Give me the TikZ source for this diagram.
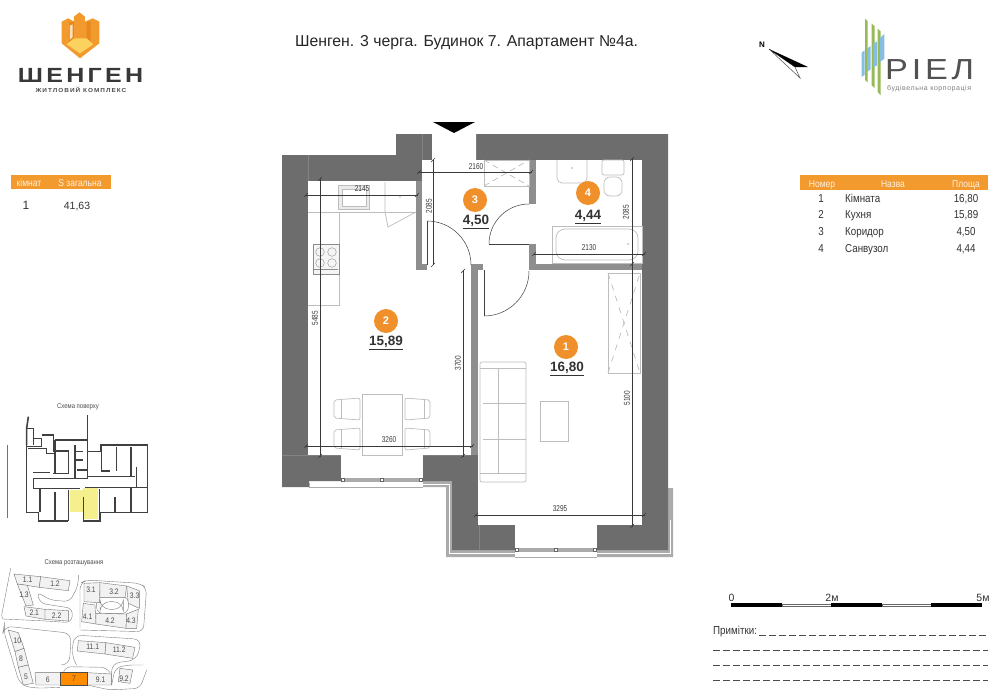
\documentclass[tikz,border=0pt]{standalone}
\usepackage{fontspec}
\setmainfont{Liberation Sans}
\newfontfamily\narrowfont[FakeStretch=0.85]{Liberation Sans}
\newfontfamily\dimfont[FakeStretch=0.76]{Liberation Sans}
\newfontfamily\logofont[FakeStretch=1.22,LetterSpace=16]{Liberation Sans}
\newfontfamily\subfont[FakeStretch=1.1,LetterSpace=18]{Liberation Sans}
\newfontfamily\brandfont[FakeStretch=1.18,LetterSpace=13]{Liberation Sans}
\newfontfamily\brandsubfont[LetterSpace=8]{Liberation Sans}
\definecolor{wallgray}{HTML}{6D6D6D}
\definecolor{partgray}{HTML}{8E8E8E}
\definecolor{stripgray}{HTML}{ABABAB}
\definecolor{furngray}{HTML}{BDBDBD}
\definecolor{dimgray}{HTML}{3A3A3A}
\definecolor{brandorange}{HTML}{F29A2E}
\definecolor{badgeorange}{HTML}{F0902A}
\definecolor{rielgreen}{HTML}{98B958}
\definecolor{rielblue}{HTML}{86BDE0}
\definecolor{floorgold}{HTML}{FBD25F}
\definecolor{towerdark}{HTML}{E8881C}
\definecolor{planyellow}{HTML}{F6EF8E}
\tikzset{
  furn/.style = {furngray, line width = 0.7pt},
  dimline/.style = {dimgray, line width = 0.35pt},
  dimtext/.style = {dimgray, inner sep = 0pt, font = \dimfont\fontsize{8.5}{8.5}\selectfont},
  badge/.style = {circle, fill = badgeorange, text = white, minimum size = 24pt, inner sep = 0pt, font = \bfseries\fontsize{11}{11}\selectfont},
  areatext/.style = {inner sep = 0pt, text = black!80, font = \bfseries\fontsize{13.5}{14}\selectfont},
  headtext/.style = {text = white!88!orange, inner sep = 0pt, anchor = base, font = \narrowfont\fontsize{10}{10}\selectfont},
  rowtext/.style = {text = black!80, inner sep = 0pt, anchor = base, font = \narrowfont\fontsize{11.5}{12}\selectfont},
  schemetext/.style = {text = black!70, inner sep = 0pt, font = \narrowfont\fontsize{7}{7}\selectfont},
  planwall/.style = {black!75, line width = 1.6pt},
  site/.style = {fill = black!5, draw = black!55, line width = 0.4pt},
  road/.style = {black!50, line width = 0.4pt},
  note/.style = {black!70, line width = 0.6pt, dash pattern = on 7.2pt off 2.8pt}
}
\begin{document}
\begin{tikzpicture}[x = 1pt, y = -1pt]
\useasboundingbox (0, 0) rectangle (1000, 693);
\fill[white] (0, 0) rectangle (1000, 693);
% Шенген logo
\begin{scope}[shift = {(50, 5)}, x = 0.3333pt, y = -0.3333pt]
\fill[brandorange] (35, 50) -- (55, 40) -- (72, 50) -- (72, 35) -- (88, 22) -- (105, 35) -- (105, 50) -- (128, 40) -- (148, 50) -- (148, 115) -- (90, 160) -- (35, 115) -- cycle;
\fill[towerdark] (72, 50) -- (72, 100) -- (58, 112) -- (58, 50) -- cycle;
\fill[towerdark] (110, 50) -- (122, 50) -- (122, 110) -- (110, 100) -- cycle;
\fill[floorgold] (50, 118) -- (72, 100) -- (110, 100) -- (130, 118) -- (90, 145) -- cycle;
\fill[white!70!brandorange] (60, 62) -- (68, 58) -- (68, 96) -- (60, 104) -- cycle;
\end{scope}
\node[inner sep = 0pt, text = black!78, font = \logofont\bfseries\fontsize{20.5}{21}\selectfont] (brandname) at (80.5, 75) {ШЕНГЕН};
\node[inner sep = 0pt, text = black!70, font = \subfont\bfseries\fontsize{5.8}{6}\selectfont] (brandsub) at (81, 90) {ЖИТЛОВИЙ КОМПЛЕКС};
% title and north mark
\node[inner sep = 0pt, text = black!85, font = \fontsize{15.8}{16}\selectfont] (title) at (466.5, 43) {Шенген. 3 черга. Будинок 7. Апартамент №4а.};
\node[inner sep = 0pt, font = \bfseries\fontsize{8}{8}\selectfont] (north) at (762, 45) {N};
\draw[black!70, line width = 0.5pt, fill = white] (769, 49) -- (800, 78) -- (795, 67) -- cycle;
\fill[black] (769, 49) -- (808, 67) -- (795, 67) -- cycle;
% Рiел logo
\begin{scope}[shift = {(855, 12)}, x = 0.3333pt, y = -0.3333pt]
\fill[rielgreen] (30, 20) -- (38, 28) -- (38, 212) -- (30, 204) -- cycle;
\fill[rielgreen] (50, 35) -- (59, 43) -- (59, 228) -- (50, 220) -- cycle;
\fill[rielgreen] (68, 50) -- (77, 58) -- (77, 250) -- (68, 240) -- cycle;
\fill[rielblue] (20, 122) -- (29, 115) -- (29, 188) -- (20, 195) -- cycle;
\fill[rielblue] (36, 110) -- (47, 102) -- (47, 172) -- (36, 180) -- cycle;
\fill[rielblue] (55, 96) -- (66, 88) -- (66, 160) -- (55, 166) -- cycle;
\fill[rielblue] (75, 78) -- (88, 66) -- (88, 140) -- (75, 150) -- cycle;
\end{scope}
\node[inner sep = 0pt, anchor = base west, text = black!68, font = \brandfont\fontsize{29}{29}\selectfont] (rielname) at (885, 79) {РІЕЛ};
\node[inner sep = 0pt, anchor = base west, text = black!50, font = \brandsubfont\fontsize{7}{7}\selectfont] (rielsub) at (887, 90) {будівельна корпорація};
% left table
\fill[brandorange] (11, 175) rectangle (111, 189);
\node[headtext] (headrooms) at (29, 186) {кімнат};
\node[headtext] (headtotal) at (80, 186) {S загальна};
\node[rowtext, font = \fontsize{12}{12}\selectfont] (rowrooms) at (26, 209) {1};
\node[rowtext, font = \fontsize{10.5}{11}\selectfont] (rowtotal) at (77, 209) {41,63};
% right table
\fill[brandorange] (800, 175) rectangle (988, 190);
\node[headtext] (headnum) at (822, 187) {Номер};
\node[headtext] (headname) at (893, 187) {Назва};
\node[headtext] (headarea) at (966, 187) {Площа};
\node[rowtext] (num1) at (821, 202) {1};
\node[rowtext, anchor = base west] (name1) at (845, 202) {Кімната};
\node[rowtext] (area1) at (966, 202) {16,80};
\node[rowtext] (num2) at (821, 218.5) {2};
\node[rowtext, anchor = base west] (name2) at (845, 218.5) {Кухня};
\node[rowtext] (area2) at (966, 218.5) {15,89};
\node[rowtext] (num3) at (821, 235) {3};
\node[rowtext, anchor = base west] (name3) at (845, 235) {Коридор};
\node[rowtext] (area3) at (966, 235) {4,50};
\node[rowtext] (num4) at (821, 252) {4};
\node[rowtext, anchor = base west] (name4) at (845, 252) {Санвузол};
\node[rowtext] (area4) at (966, 252) {4,44};
% walls
\fill[stripgray] (423, 481) -- (452, 481) -- (452, 550) -- (515, 550) -- (515, 557) -- (446, 557) -- (446, 487) -- (423, 487) -- cycle;
\fill[stripgray] (597, 550) -- (668, 550) -- (668, 488) -- (673, 488) -- (673, 557) -- (597, 557) -- cycle;
\draw[white, line width = 0.8pt] (423, 484.5) -- (449, 484.5) -- (449, 553.5) -- (515, 553.5);
\draw[white, line width = 0.8pt] (597, 553.5) -- (670.5, 553.5) -- (670.5, 520);
\fill[wallgray] (282, 155) -- (396, 155) -- (396, 134) -- (668, 134) -- (668, 550) -- (452, 550) -- (452, 481) -- (309, 481) -- (309, 487) -- (282, 487) -- cycle;
\draw[stripgray, line width = 0.8pt] (309, 483) -- (309, 487) -- (341, 487);
\fill[white] (308, 181) -- (416, 181) -- (416, 270) -- (471, 270) -- (471, 455) -- (308, 455) -- cycle;
\fill[white] (422, 160) -- (432, 160) -- (432, 134) -- (476, 134) -- (476, 160) -- (529, 160) -- (529, 270) -- (483, 270) -- (483, 264) -- (471, 264) -- (471, 270) -- (427, 270) -- (427, 264) -- (422, 264) -- cycle;
\fill[white] (478, 270) rectangle (642, 525);
\fill[white] (536, 160) rectangle (642, 264);
\fill[white] (529, 204) rectangle (536, 244);
\fill[white] (341, 455) rectangle (423, 487);
\fill[white] (515, 525) rectangle (597, 557);
\fill[partgray] (416, 181) rectangle (422, 270);
\fill[partgray] (416, 264) rectangle (427, 270);
\fill[partgray] (471, 264) rectangle (483, 270);
\fill[partgray] (471, 270) rectangle (478, 455);
\fill[partgray] (529, 160) rectangle (536, 204);
\fill[partgray] (529, 244) rectangle (536, 270);
\fill[partgray] (529, 264) rectangle (642, 270);
\draw[wallgray!85!white, line width = 0.4pt] (308, 155) -- (308, 181);
\draw[wallgray!85!white, line width = 0.4pt] (422, 134) -- (422, 160);
\draw[wallgray!85!white, line width = 0.4pt] (282, 455) -- (308, 455);
\draw[wallgray!85!white, line width = 0.4pt] (479, 525) -- (479, 550);
% windows
\fill[stripgray] (341, 478) rectangle (423, 482);
\fill[stripgray] (515, 548) rectangle (597, 552);
\draw[stripgray, line width = 0.7pt] (341, 487) -- (423, 487);
\draw[stripgray, line width = 0.7pt] (515, 557) -- (597, 557);
\foreach \winx in {343, 382, 421} {
  \draw[black!60, fill = white, line width = 0.4pt] (\winx - 1.5, 478.5) rectangle (\winx + 1.5, 481.5);
}
\foreach \winx in {517, 556, 595} {
  \draw[black!60, fill = white, line width = 0.4pt] (\winx - 1.5, 548.5) rectangle (\winx + 1.5, 551.5);
}
% entrance mark
\fill[black] (433, 122) -- (475, 122) -- (454, 133) -- cycle;
% doors
\draw[black!75, line width = 0.5pt] (489, 244) -- (529, 244);
\draw[black!75, line width = 0.5pt] (489, 244) arc [start angle = 180, end angle = 270, radius = 40];
\draw[black!75, line width = 0.5pt] (427, 265) -- (427, 221);
\draw[black!75, line width = 0.5pt] (427, 221) arc [start angle = 270, end angle = 360, radius = 44];
\draw[black!75, line width = 0.5pt] (484, 270) -- (484, 316);
\draw[black!75, line width = 0.5pt] (484, 316) arc [start angle = 90, end angle = 0, radius = 45];
% kitchen
\draw[furn] (308, 212) -- (416, 212);
\draw[furn] (339, 212) -- (339, 305) -- (308, 305);
\draw[furn] (385, 182) -- (385, 212) -- (388, 227) -- (416, 212);
\fill[furngray] (400, 197) circle [radius = 0.9];
\draw[furn, fill = black!8] (338, 185) rectangle (369, 209);
\draw[furn, fill = white] (342, 189) rectangle (366, 206);
\draw[draw = black!45, fill = black!4, line width = 0.7pt] (313, 244) rectangle (339, 274);
\foreach \hobx/\hoby in {320/252, 332/252, 320/263, 332/263} {
  \draw[black!45, line width = 0.4pt] (\hobx, \hoby) circle [radius = 4.3];
}
\draw[black!45, line width = 0.4pt] (314, 269) -- (338, 269);
% dining table
\draw[furn] (362, 394) rectangle (402, 455);
\draw[furn, rounded corners = 2pt] (334, 400) -- (360, 398) -- (360, 420) -- (334, 418) -- cycle;
\draw[furn, rounded corners = 2pt] (334, 430) -- (360, 428) -- (360, 450) -- (334, 448) -- cycle;
\draw[furn, rounded corners = 2pt] (405, 398) -- (430, 400) -- (430, 418) -- (405, 420) -- cycle;
\draw[furn, rounded corners = 2pt] (405, 428) -- (430, 430) -- (430, 448) -- (405, 450) -- cycle;
\draw[furn] (341, 399) -- (341, 419);
\draw[furn] (341, 429) -- (341, 449);
\draw[furn] (424, 399) -- (424, 419);
\draw[furn] (424, 429) -- (424, 449);
% sofa and wardrobe
\draw[furn, rounded corners = 2pt] (480, 362) rectangle (526, 482);
\draw[furn] (480, 368) -- (526, 368);
\draw[furn] (480, 473) -- (526, 473);
\draw[furn] (498, 368) -- (498, 473);
\draw[furn] (483, 403) -- (526, 403);
\draw[furn] (483, 439) -- (526, 439);
\draw[furn, line width = 1pt] (540, 401) rectangle (568, 441);
\draw[furn] (608, 273) rectangle (640, 373);
\draw[furn, dash pattern = on 6pt off 6pt] (608, 273) -- (624, 323) -- (640, 273);
\draw[furn, dash pattern = on 6pt off 6pt] (608, 373) -- (624, 323) -- (640, 373);
\draw[furn] (484, 160) rectangle (529, 186);
\draw[furn, dash pattern = on 6pt off 4pt] (484, 160) -- (529, 186);
\draw[furn, dash pattern = on 6pt off 4pt] (484, 186) -- (529, 160);
% bathroom
\draw[furn, rounded corners = 5pt] (557, 160) -- (557, 183) -- (587, 183) -- (587, 160);
\fill[furngray] (572, 168) circle [radius = 1];
\draw[furn, rounded corners = 2pt] (602, 160) rectangle (624, 175);
\draw[furn, rounded corners = 6pt] (604, 177) rectangle (622, 196);
\draw[furn] (552, 226) rectangle (642, 263);
\draw[furn, rounded corners = 9pt] (556, 229) rectangle (638, 260);
\fill[furngray] (628, 244) circle [radius = 1];
% dimensions
\draw[dimline] (305, 195) -- (418, 195);
\draw[dimline] (320, 178) -- (320, 457);
\draw[dimline] (305, 446) -- (473, 446);
\draw[dimline] (463, 270) -- (463, 457);
\draw[dimline] (418, 172) -- (532, 172);
\draw[dimline] (433, 160) -- (433, 265);
\draw[dimline] (632, 158) -- (632, 527);
\draw[dimline] (533, 254) -- (645, 254);
\draw[dimline] (475, 515) -- (645, 515);
\foreach \tickx/\ticky in {306/195, 417/195, 320/179, 320/456, 306/446, 472/446, 463/271, 463/456, 419/172, 531/172, 433/160, 433/265, 632/159, 632/264, 632/526, 534/254, 644/254, 476/515, 644/515} {
  \draw[dimline, line width = 0.5pt] (\tickx - 2, \ticky + 2) -- (\tickx + 2, \ticky - 2);
}
\node[dimtext] (dim2145) at (362, 189) {2145};
\node[dimtext, rotate = 90] (dim5485) at (315, 318) {5485};
\node[dimtext] (dim3260) at (389, 440) {3260};
\node[dimtext, rotate = 90] (dim3700) at (458, 363) {3700};
\node[dimtext] (dim2160) at (476, 167) {2160};
\node[dimtext, rotate = 90] (dim2085a) at (429, 206) {2085};
\node[dimtext, rotate = 90] (dim2085b) at (626, 212) {2085};
\node[dimtext] (dim2130) at (589, 248) {2130};
\node[dimtext, rotate = 90] (dim5100) at (627, 398) {5100};
\node[dimtext] (dim3295) at (560, 509) {3295};
% room marks
\node[badge] (badge3) at (475, 200) {3};
\node[badge] (badge4) at (588, 193) {4};
\node[badge] (badge2) at (386, 321) {2};
\node[badge] (badge1) at (566, 347) {1};
\node[areatext] (room3) at (476, 222) {\underline{4,50}};
\node[areatext] (room4) at (588, 217) {\underline{4,44}};
\node[areatext] (room2) at (386, 343) {\underline{15,89}};
\node[areatext] (room1) at (567, 369) {\underline{16,80}};
% floor scheme
\node[schemetext] (floorname) at (78, 407) {Схема поверху};
\begin{scope}[shift = {(0, 395)}, x = 0.3333pt, y = -0.3333pt]
\fill[planyellow] (210, 285) -- (250, 285) -- (250, 352) -- (210, 352) -- cycle;
\fill[planyellow] (250, 280) -- (295, 280) -- (295, 372) -- (250, 372) -- cycle;
\draw[black!55, line width = 0.9pt] (22, 150) -- (22, 370);
\draw[planwall] (80, 150) -- (80, 352) -- (115, 352) -- (115, 378) -- (205, 378);
\draw[planwall] (250, 378) -- (300, 378) -- (300, 352) -- (443, 352) -- (443, 150) -- (303, 150) -- (303, 170) -- (262, 170) -- (262, 60);
\draw[planwall] (85, 65) -- (80, 100) -- (80, 150);
\draw[planwall] (80, 100) -- (100, 100) -- (100, 150);
\draw[planwall] (100, 130) -- (125, 130) -- (125, 155) -- (80, 155);
\draw[planwall] (125, 120) -- (160, 120) -- (160, 170);
\draw[planwall] (85, 160) -- (140, 160) -- (140, 175) -- (165, 175);
\draw[planwall] (165, 135) -- (262, 135);
\draw[planwall] (165, 135) -- (165, 235);
\draw[planwall] (165, 168) -- (205, 168) -- (205, 235) -- (160, 235);
\draw[planwall] (225, 150) -- (225, 250) -- (262, 250) -- (262, 170);
\draw[planwall] (225, 170) -- (250, 170);
\draw[planwall] (225, 195) -- (250, 195);
\draw[planwall] (230, 225) -- (262, 225);
\draw[planwall] (100, 232) -- (150, 232);
\draw[planwall] (100, 250) -- (225, 250);
\draw[planwall] (100, 250) -- (100, 280) -- (240, 280);
\draw[planwall] (255, 278) -- (440, 278);
\draw[planwall] (262, 245) -- (405, 245);
\draw[planwall] (120, 280) -- (120, 352);
\draw[planwall] (165, 290) -- (165, 378);
\draw[planwall] (205, 285) -- (205, 378);
\draw[planwall] (250, 305) -- (250, 378);
\draw[planwall] (298, 282) -- (298, 352);
\draw[planwall] (345, 305) -- (345, 352);
\draw[planwall] (393, 280) -- (393, 352);
\draw[planwall] (305, 150) -- (305, 228) -- (330, 228);
\draw[planwall] (350, 155) -- (350, 228);
\draw[planwall] (393, 155) -- (393, 245);
\draw[planwall] (410, 215) -- (410, 278);
\end{scope}
% site scheme
\node[schemetext] (sitename) at (74, 563) {Схема розташування};
\begin{scope}[shift = {(0, 550)}, x = 0.3333pt, y = -0.3333pt]
\draw[road] (32, 55) -- (5, 195) -- (8, 207) -- (120, 212);
\draw[road, rounded corners = 6pt] (120, 212) -- (215, 218) -- (218, 175) -- (120, 160) -- (110, 125) -- (150, 150) -- (210, 155) -- (235, 105) -- (235, 75);
\draw[road, rounded corners = 8pt] (182, 345) -- (208, 345) -- (214, 250) -- (12, 228) -- (10, 240) -- (60, 405) -- (105, 415) -- (180, 412);
\draw[road, rounded corners = 8pt] (230, 345) -- (215, 320) -- (222, 255) -- (425, 268) -- (410, 330) -- (335, 340) -- (335, 405);
\draw[road, rounded corners = 6pt] (190, 368) -- (195, 350) -- (320, 352) -- (330, 368);
\draw[road, rounded corners = 6pt] (335, 405) -- (345, 355) -- (380, 345) -- (430, 345);
\draw[road, rounded corners = 6pt] (262, 405) -- (330, 420) -- (420, 415) -- (440, 360);
\draw[road, rounded corners = 6pt] (240, 235) -- (240, 100) -- (260, 90) -- (420, 100) -- (440, 115) -- (430, 245) -- (240, 240);
\draw[road, rounded corners = 6pt] (290, 140) -- (385, 140) -- (385, 190) -- (290, 190) -- cycle;
\draw[road, rounded corners = 10pt] (300, 155) -- (370, 155) -- (370, 178) -- (300, 178) -- cycle;
\draw[site] (42, 72) -- (122, 80) -- (118, 112) -- (52, 102) -- cycle;
\draw[site] (122, 80) -- (210, 92) -- (205, 122) -- (118, 112) -- cycle;
\draw[site] (52, 102) -- (82, 106) -- (100, 165) -- (78, 168) -- cycle;
\draw[site] (72, 170) -- (135, 178) -- (135, 208) -- (78, 198) -- cycle;
\draw[site] (135, 178) -- (205, 182) -- (205, 213) -- (135, 208) -- cycle;
\draw[site] (252, 100) -- (300, 98) -- (298, 158) -- (252, 155) -- cycle;
\draw[site] (300, 98) -- (380, 108) -- (375, 142) -- (300, 142) -- cycle;
\draw[site] (380, 108) -- (418, 122) -- (418, 175) -- (385, 160) -- cycle;
\draw[site] (250, 160) -- (285, 165) -- (288, 222) -- (245, 215) -- cycle;
\draw[site] (288, 190) -- (380, 192) -- (378, 235) -- (288, 222) -- cycle;
\draw[site] (380, 192) -- (415, 178) -- (410, 235) -- (378, 235) -- cycle;
\draw[site] (25, 240) -- (55, 248) -- (72, 295) -- (45, 305) -- cycle;
\draw[site] (45, 305) -- (72, 295) -- (85, 345) -- (55, 352) -- cycle;
\draw[site] (55, 352) -- (85, 345) -- (100, 400) -- (70, 405) -- cycle;
\draw[site] (105, 368) -- (182, 368) -- (182, 405) -- (108, 405) -- cycle;
\draw[site] (262, 368) -- (335, 372) -- (335, 405) -- (262, 405) -- cycle;
\draw[site] (360, 355) -- (398, 360) -- (390, 400) -- (355, 395) -- cycle;
\draw[site] (235, 272) -- (318, 278) -- (315, 312) -- (232, 303) -- cycle;
\draw[site] (318, 278) -- (405, 292) -- (398, 325) -- (315, 312) -- cycle;
\draw[fill = orange!90!yellow, draw = black!70, line width = 0.6pt] (182, 368) rectangle (262, 405);
\end{scope}
\tikzset{sitelabel/.style = {schemetext, font = \narrowfont\fontsize{8}{8}\selectfont}}
\node[sitelabel] (site11) at (27.7, 579.3) {1.1};
\node[sitelabel] (site12) at (55, 583.3) {1.2};
\node[sitelabel] (site13) at (24, 595) {1.3};
\node[sitelabel] (site21) at (34.3, 612.7) {2.1};
\node[sitelabel] (site22) at (56.7, 615.3) {2.2};
\node[sitelabel] (site31) at (91, 590) {3.1};
\node[sitelabel] (site32) at (114, 591.3) {3.2};
\node[sitelabel] (site33) at (134.7, 595.7) {3.3};
\node[sitelabel] (site41) at (87.7, 616.7) {4.1};
\node[sitelabel] (site42) at (110, 621) {4.2};
\node[sitelabel] (site43) at (131, 620.7) {4.3};
\node[sitelabel] (site10) at (17.3, 640.7) {10};
\node[sitelabel] (site8) at (21, 658.3) {8};
\node[sitelabel] (site5) at (26, 676.7) {5};
\node[sitelabel] (site6) at (47.7, 679.3) {6};
\node[sitelabel] (site7) at (74, 678.7) {7};
\node[sitelabel] (site91) at (100.7, 680) {9.1};
\node[sitelabel] (site92) at (124, 678.3) {9.2};
\node[sitelabel] (site111) at (92.7, 647) {11.1};
\node[sitelabel] (site112) at (119.3, 650) {11.2};
% scale bar
\fill[black] (731, 603) rectangle (782, 607);
\draw[black!60, fill = white, line width = 0.5pt] (782, 604) rectangle (831, 606.5);
\fill[black] (831, 603) rectangle (882, 607);
\draw[black!60, fill = white, line width = 0.5pt] (882, 604) rectangle (931, 606.5);
\fill[black] (931, 603) rectangle (982, 607);
\node[inner sep = 0pt, text = black!80, font = \fontsize{10.5}{11}\selectfont] (scale0) at (731.5, 598) {0};
\node[inner sep = 0pt, text = black!80, font = \fontsize{10.5}{11}\selectfont] (scale2) at (832, 598) {2м};
\node[inner sep = 0pt, text = black!80, font = \fontsize{10.5}{11}\selectfont] (scale5) at (983, 598) {5м};
% notes
\node[inner sep = 0pt, anchor = west, text = black!80, font = \narrowfont\fontsize{11.5}{12}\selectfont] (notes) at (713, 632) {Примітки:};
\draw[note] (759, 635) -- (988, 635);
\foreach \notey in {650.5, 665.5, 680} {
  \draw[note] (713, \notey) -- (988, \notey);
}
\end{tikzpicture}
\end{document}
